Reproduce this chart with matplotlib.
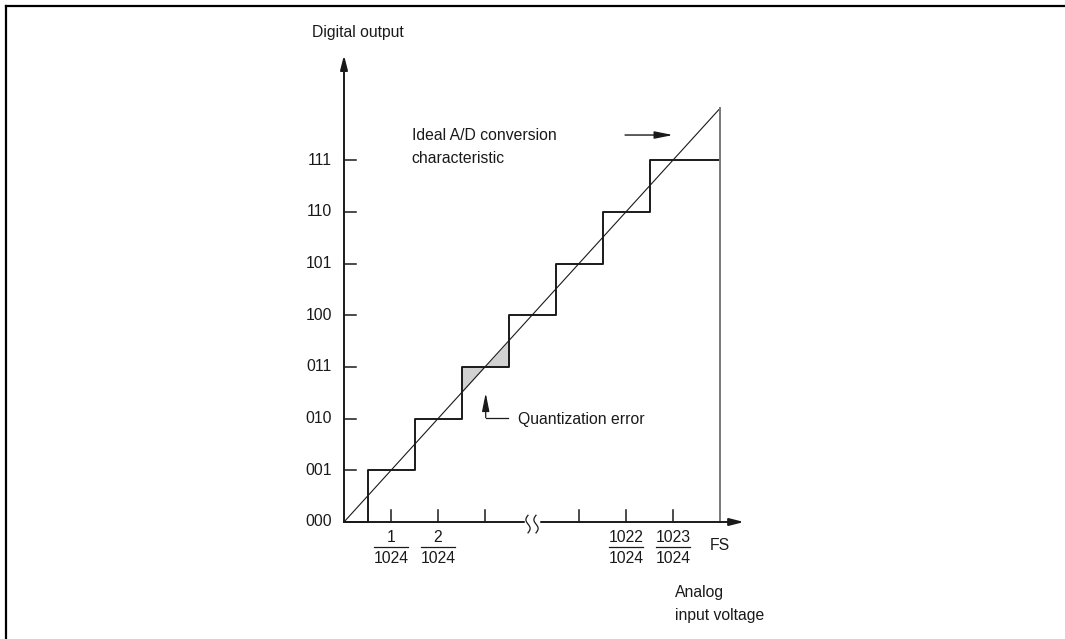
import numpy as np
import matplotlib
matplotlib.use('Agg')
import matplotlib.pyplot as plt
from matplotlib.lines import Line2D

plt.rcParams['font.family'] = ['Liberation Sans', 'DejaVu Sans']

# output codes (y levels) and their labels
codes = ['000', '001', '010', '011', '100', '101', '110', '111']
levels = [0, 1, 2, 3, 4, 5, 6, 7]
# input voltage where each code switches on (half an LSB before each tick)
transitions = [0.5, 1.5, 2.5, 3.5, 4.5, 5.5, 6.5]
full_scale = 8
# x tick positions; 4 is the axis break
x_ticks = [1, 2, 3, 5, 6, 7]
x_tick_num = {1: '1', 2: '2', 6: '1022', 7: '1023'}
x_break = 4
shaded_level = 3

FS = 11.3
DARK = '#1a1a1a'

fig = plt.figure(figsize=(10.65, 6.39), dpi=100)
ax = fig.add_axes([0, 0, 1, 1])
# axis origin sits at pixel (344, 522); 47 px per x unit, 51.7 px per y level
ax.set_xlim(-344 / 47, (1065 - 344) / 47)
ax.set_ylim((522 - 639) / 51.7, 522 / 51.7)
ax.axis('off')

arrow = dict(arrowstyle='-|>,head_length=0.86,head_width=0.22', mutation_scale=10,
             lw=1.4, color=DARK, shrinkA=0, shrinkB=0)

# axes with arrows
ax.annotate('', xy=(0, 9.03), xytext=(0, 0), arrowprops=arrow)
ax.annotate('', xy=(8.51, 0), xytext=(0, 0), arrowprops=arrow)

# y ticks and code labels
for lv, code in zip(levels, codes):
    if lv > 0:
        ax.plot([0, 0.255], [lv, lv], color=DARK, lw=1.1)
    ax.text(-0.255, lv, code, ha='right', va='center', fontsize=FS, color=DARK)

# x ticks and fraction labels
for xt in x_ticks:
    ax.plot([xt, xt], [0, 0.23], color=DARK, lw=1.1)
    if xt in x_tick_num:
        ax.text(xt, -0.30, x_tick_num[xt], ha='center', va='center', fontsize=FS, color=DARK)
        ax.plot([xt - 0.36, xt + 0.36], [-0.49, -0.49], color=DARK, lw=0.9)
        ax.text(xt, -0.70, '1024', ha='center', va='center', fontsize=FS, color=DARK)
ax.text(full_scale, -0.46, 'FS', ha='center', va='center', fontsize=FS, color=DARK)

# axis break symbol
ax.plot([x_break - 0.12, x_break + 0.12], [0, 0], color='white', lw=2.5, zorder=3)
t = np.linspace(0, 1, 40)
for dx in (-0.085, 0.085):
    ax.plot(x_break + dx + 0.045 * np.sin(2 * np.pi * t), -0.21 + 0.34 * t,
            color=DARK, lw=0.9, zorder=4)

# quantization error shading around one code
xs = np.array([transitions[shaded_level - 1], shaded_level, transitions[shaded_level]])
ax.fill_between(xs, levels[shaded_level], xs, color='#d2d2d2', lw=0, zorder=1)

# ideal characteristic
ax.plot([0, full_scale], [0, full_scale], color=DARK, lw=0.8, zorder=2)

# staircase
step_x = [0] + transitions + [full_scale]
step_y = levels + [levels[-1]]
ax.step(step_x, step_y, where='post', color=DARK, lw=1.4, zorder=2)
ax.plot([full_scale, full_scale], [0, full_scale], color='#7a7a7a', lw=1.4, zorder=2)

# annotations
ax.text(-0.687, 9.46, 'Digital output', ha='left', va='center', fontsize=FS, color=DARK)
ax.text(1.44, 7.485, 'Ideal A/D conversion', ha='left', va='center', fontsize=FS, color=DARK)
ax.text(1.44, 7.04, 'characteristic', ha='left', va='center', fontsize=FS, color=DARK)
ax.annotate('', xy=(7.0, 7.485), xytext=(5.98, 7.485),
            arrowprops=dict(arrow, lw=1.0, arrowstyle='-|>,head_length=1.1,head_width=0.22'))

ax.text(3.70, 1.99, 'Quantization error', ha='left', va='center', fontsize=FS, color=DARK)
ax.plot([3.49, 3.015], [2.02, 2.02], color=DARK, lw=0.9)
ax.annotate('', xy=(3.015, 2.495), xytext=(3.015, 2.02),
            arrowprops=dict(arrow, lw=0.9, arrowstyle='-|>,head_length=1.1,head_width=0.22'))

ax.text(7.04, -1.37, 'Analog', ha='left', va='center', fontsize=FS, color=DARK)
ax.text(7.04, -1.80, 'input voltage', ha='left', va='center', fontsize=FS, color=DARK)

# frame lines (top and left)
x0 = 5.5 / 1065
y0 = 1 - 5.5 / 639
fig.add_artist(Line2D([x0, 1], [y0, y0], transform=fig.transFigure, color='black', lw=1.6))
fig.add_artist(Line2D([x0, x0], [0, y0], transform=fig.transFigure, color='black', lw=1.6))

fig.savefig('out.png', dpi=100)
